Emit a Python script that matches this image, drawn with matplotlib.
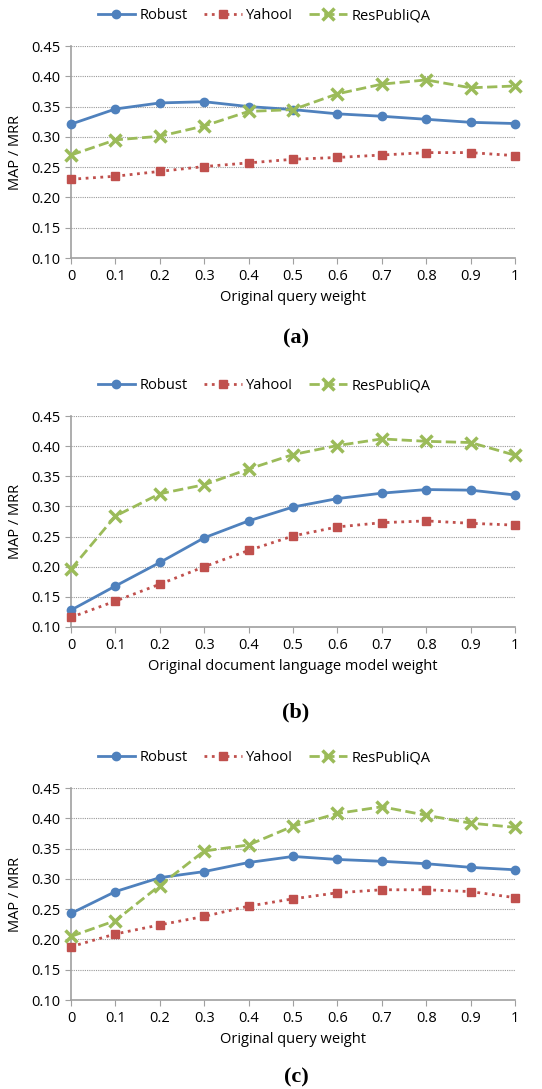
import matplotlib.pyplot as plt
import numpy as np

weights = [0, 0.1, 0.2, 0.3, 0.4, 0.5, 0.6, 0.7, 0.8, 0.9, 1]
tick_labels = ['0', '0.1', '0.2', '0.3', '0.4', '0.5', '0.6', '0.7', '0.8', '0.9', '1']
series_names = ['Robust', 'Yahoo!', 'ResPubliQA']

# panel (a)
robust_a = [0.321, 0.346, 0.356, 0.358, 0.350, 0.345, 0.338, 0.334, 0.329, 0.324, 0.322]
yahoo_a = [0.230, 0.235, 0.243, 0.251, 0.257, 0.263, 0.266, 0.270, 0.274, 0.274, 0.269]
respubliqa_a = [0.270, 0.295, 0.301, 0.318, 0.342, 0.345, 0.371, 0.387, 0.394, 0.381, 0.384]

# panel (b)
robust_b = [0.128, 0.168, 0.207, 0.248, 0.276, 0.299, 0.313, 0.322, 0.328, 0.327, 0.319]
yahoo_b = [0.116, 0.143, 0.171, 0.200, 0.227, 0.251, 0.266, 0.273, 0.276, 0.272, 0.269]
respubliqa_b = [0.196, 0.284, 0.321, 0.336, 0.362, 0.386, 0.401, 0.412, 0.408, 0.406, 0.385]

# panel (c)
robust_c = [0.243, 0.279, 0.302, 0.312, 0.327, 0.337, 0.332, 0.329, 0.325, 0.319, 0.315]
yahoo_c = [0.188, 0.209, 0.224, 0.238, 0.255, 0.267, 0.277, 0.282, 0.282, 0.279, 0.269]
respubliqa_c = [0.205, 0.231, 0.289, 0.346, 0.356, 0.387, 0.408, 0.419, 0.405, 0.392, 0.385]

xlabels = ['Original query weight', 'Original document language model weight',
           'Original query weight']
panel_tags = ['(a)', '(b)', '(c)']

colors = ['#4F81BD', '#C0504D', '#9BBB59']
styles = [dict(ls='-', marker='o', ms=6, lw=2),
          dict(ls=':', marker='s', ms=6, lw=2),
          dict(ls='--', marker='x', ms=8, mew=2.5, lw=2)]

plt.rcParams['font.family'] = ['Open Sans', 'DejaVu Sans']

fig = plt.figure(figsize=(5.42, 10.89), dpi=100)
W, H = 542., 1089.

# top / bottom of each plot area and y of the panel tag, in pixels
panels = [(46, 258, 338), (416, 627, 712), (788, 1000, 1077)]
data = [(robust_a, yahoo_a, respubliqa_a),
        (robust_b, yahoo_b, respubliqa_b),
        (robust_c, yahoo_c, respubliqa_c)]

for (top, bot, tag_y), vals, xl, tag in zip(panels, data, xlabels, panel_tags):
    ax = fig.add_axes([71 / W, 1 - bot / H, 444 / W, (bot - top) / H])
    for v, name, c, st in zip(vals, series_names, colors, styles):
        ax.plot(weights, v, color=c, label=name, clip_on=False, zorder=3, **st)
    ax.set_xlim(0, 1)
    ax.set_ylim(0.10, 0.45)
    yt = np.arange(0.10, 0.451, 0.05)
    ax.set_yticks(yt)
    ax.set_yticklabels(['%.2f' % t for t in yt])
    ax.set_xticks(weights)
    ax.set_xticklabels(tick_labels)
    ax.grid(axis='y', color='#999999', ls=(0, (1, 1)), lw=0.8)
    ax.set_axisbelow(True)
    for s in ['top', 'right']:
        ax.spines[s].set_visible(False)
    for s in ['left', 'bottom']:
        ax.spines[s].set_color('#A0A0A0')
        ax.spines[s].set_linewidth(1.2)
    ax.tick_params(axis='both', colors='#A0A0A0', labelcolor='black',
                   labelsize=10.5, length=4, direction='out')
    ax.tick_params(axis='x', pad=4)
    ax.set_ylabel('MAP / MRR', fontsize=10.5, labelpad=6)
    ax.set_xlabel(xl, fontsize=10.5, labelpad=4)
    ax.legend(loc='lower center', bbox_to_anchor=(0.435, 1.08), ncol=3, frameon=False,
              fontsize=10.5, handlelength=2.6, columnspacing=1.1, handletextpad=0.3,
              borderaxespad=0)
    fig.text(296 / W, 1 - tag_y / H, tag, ha='center', va='center',
             fontsize=16, fontweight='bold', family='Liberation Serif')

fig.savefig('out.png', dpi=100)
